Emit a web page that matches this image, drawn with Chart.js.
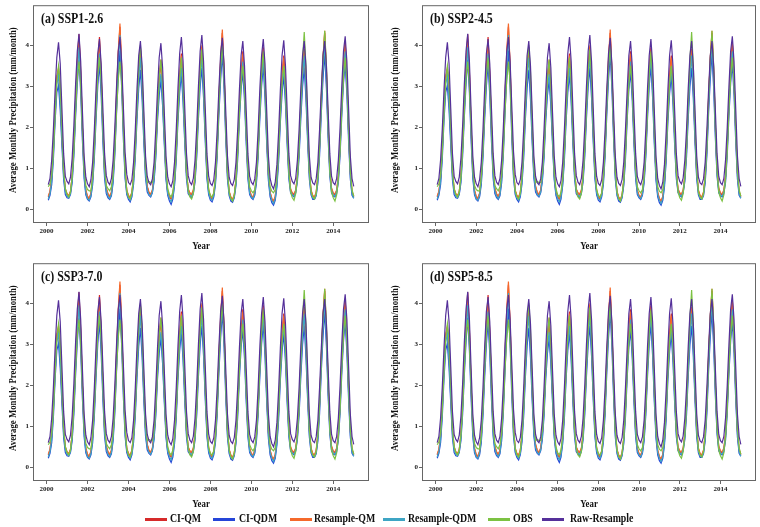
<!DOCTYPE html>
<html>
<head>
<meta charset="utf-8">
<script src="https://cdn.jsdelivr.net/npm/chart.js@4.4.1/dist/chart.umd.min.js"></script>
<style>
  body { margin: 0; background: #fff; width: 760px; height: 527px; position: relative; overflow: hidden; }
  canvas { position: absolute; }
  .leg-line { position: absolute; top: 518px; width: 22px; height: 3px; }
  .leg-text { position: absolute; top: 511px; font: bold 12px "Liberation Serif", serif; color: #111;
              white-space: nowrap; transform: scaleX(0.82); transform-origin: left center; }
</style>
</head>
<body>
<script>
// years on the x axis, one value per month (Jan..Dec), x = year + month/12
const years = [2000, 2001, 2002, 2003, 2004, 2005, 2006, 2007, 2008, 2009, 2010, 2011, 2012, 2013, 2014];
const xTicks = [2000, 2002, 2004, 2006, 2008, 2010, 2012, 2014];
const yTicks = [0, 1, 2, 3, 4];
const panelTitles = ['(a) SSP1-2.6', '(b) SSP2-4.5', '(c) SSP3-7.0', '(d) SSP5-8.5'];
const seriesNames = ['CI-QM', 'CI-QDM', 'Resample-QM', 'Resample-QDM', 'OBS', 'Raw-Resample'];

const ciQm = [
  0.30, 0.42, 0.75, 1.45, 2.45, 3.20, 3.40, 2.75, 1.80, 0.90, 0.48, 0.36,
  0.32, 0.42, 0.80, 1.55, 2.65, 3.60, 4.27, 3.35, 2.00, 0.95, 0.45, 0.30,
  0.25, 0.38, 0.75, 1.50, 2.60, 3.55, 4.20, 3.30, 2.00, 0.95, 0.50, 0.36,
  0.30, 0.40, 0.80, 1.60, 2.75, 3.75, 4.45, 3.45, 2.05, 0.95, 0.45, 0.32,
  0.28, 0.40, 0.80, 1.50, 2.55, 3.40, 3.95, 3.10, 1.90, 0.95, 0.55, 0.40,
  0.35, 0.45, 0.80, 1.45, 2.45, 3.15, 3.60, 2.85, 1.80, 0.85, 0.42, 0.30,
  0.25, 0.35, 0.70, 1.40, 2.45, 3.25, 3.80, 3.00, 1.85, 0.90, 0.48, 0.38,
  0.35, 0.45, 0.80, 1.50, 2.55, 3.40, 3.95, 3.10, 1.90, 0.90, 0.45, 0.30,
  0.25, 0.38, 0.75, 1.50, 2.65, 3.60, 4.30, 3.35, 2.00, 0.90, 0.42, 0.28,
  0.22, 0.34, 0.70, 1.45, 2.50, 3.30, 3.85, 3.05, 1.85, 0.90, 0.45, 0.32,
  0.28, 0.40, 0.78, 1.50, 2.55, 3.40, 3.95, 3.10, 1.85, 0.85, 0.40, 0.25,
  0.18, 0.30, 0.68, 1.40, 2.45, 3.25, 3.75, 2.95, 1.80, 0.90, 0.48, 0.38,
  0.35, 0.45, 0.80, 1.50, 2.55, 3.35, 3.90, 3.05, 1.85, 0.90, 0.45, 0.32,
  0.28, 0.40, 0.80, 1.55, 2.70, 3.65, 4.30, 3.35, 2.00, 0.95, 0.50, 0.38,
  0.35, 0.45, 0.80, 1.55, 2.60, 3.50, 4.08, 3.20, 1.90, 0.90, 0.42, 0.30
];
const ciQdm = [
  0.22, 0.34, 0.60, 1.22, 2.15, 2.85, 3.02, 2.42, 1.55, 0.72, 0.36, 0.28,
  0.27, 0.36, 0.65, 1.30, 2.25, 3.05, 3.65, 2.85, 1.68, 0.75, 0.35, 0.24,
  0.20, 0.30, 0.60, 1.25, 2.20, 3.00, 3.55, 2.78, 1.65, 0.75, 0.38, 0.28,
  0.24, 0.33, 0.65, 1.32, 2.35, 3.20, 3.87, 2.98, 1.72, 0.76, 0.36, 0.24,
  0.18, 0.30, 0.62, 1.25, 2.20, 2.95, 3.40, 2.68, 1.62, 0.76, 0.42, 0.34,
  0.30, 0.40, 0.68, 1.25, 2.15, 2.78, 3.15, 2.52, 1.58, 0.72, 0.34, 0.20,
  0.12, 0.25, 0.58, 1.20, 2.15, 2.85, 3.30, 2.60, 1.60, 0.74, 0.38, 0.32,
  0.28, 0.38, 0.66, 1.28, 2.22, 2.98, 3.45, 2.72, 1.64, 0.74, 0.35, 0.22,
  0.18, 0.30, 0.62, 1.30, 2.32, 3.15, 3.80, 2.95, 1.72, 0.74, 0.33, 0.20,
  0.17, 0.28, 0.58, 1.22, 2.18, 2.92, 3.35, 2.65, 1.60, 0.74, 0.36, 0.28,
  0.24, 0.34, 0.64, 1.28, 2.22, 3.00, 3.50, 2.72, 1.60, 0.70, 0.30, 0.16,
  0.10, 0.22, 0.55, 1.18, 2.12, 2.82, 3.25, 2.58, 1.56, 0.74, 0.40, 0.34,
  0.30, 0.40, 0.68, 1.28, 2.22, 2.98, 3.45, 2.70, 1.62, 0.74, 0.35, 0.24,
  0.24, 0.33, 0.64, 1.32, 2.35, 3.18, 3.80, 2.95, 1.74, 0.80, 0.40, 0.32,
  0.30, 0.38, 0.66, 1.32, 2.28, 3.08, 3.55, 2.80, 1.65, 0.74, 0.34, 0.27
];
const resampleQm = [
  0.32, 0.44, 0.78, 1.48, 2.50, 3.25, 3.45, 2.80, 1.82, 0.92, 0.50, 0.38,
  0.33, 0.44, 0.80, 1.55, 2.62, 3.55, 4.15, 3.30, 1.98, 0.95, 0.47, 0.32,
  0.27, 0.40, 0.76, 1.50, 2.58, 3.50, 4.10, 3.25, 1.98, 0.95, 0.52, 0.38,
  0.32, 0.42, 0.82, 1.62, 2.80, 3.85, 4.53, 3.50, 2.08, 0.97, 0.47, 0.34,
  0.30, 0.42, 0.80, 1.50, 2.55, 3.38, 3.90, 3.08, 1.90, 0.95, 0.56, 0.42,
  0.37, 0.47, 0.82, 1.48, 2.48, 3.20, 3.65, 2.88, 1.82, 0.87, 0.44, 0.32,
  0.27, 0.37, 0.72, 1.42, 2.45, 3.22, 3.75, 2.98, 1.85, 0.90, 0.50, 0.40,
  0.37, 0.47, 0.82, 1.52, 2.58, 3.45, 4.00, 3.12, 1.92, 0.92, 0.47, 0.32,
  0.27, 0.40, 0.78, 1.55, 2.70, 3.68, 4.38, 3.40, 2.02, 0.92, 0.44, 0.30,
  0.24, 0.36, 0.72, 1.45, 2.48, 3.28, 3.80, 3.02, 1.85, 0.90, 0.47, 0.34,
  0.30, 0.42, 0.78, 1.50, 2.52, 3.36, 3.90, 3.08, 1.85, 0.87, 0.42, 0.27,
  0.20, 0.32, 0.70, 1.42, 2.45, 3.22, 3.70, 2.92, 1.80, 0.92, 0.50, 0.40,
  0.37, 0.47, 0.82, 1.50, 2.55, 3.35, 3.90, 3.05, 1.85, 0.92, 0.47, 0.34,
  0.30, 0.42, 0.82, 1.58, 2.72, 3.70, 4.35, 3.38, 2.02, 0.97, 0.52, 0.40,
  0.37, 0.47, 0.82, 1.55, 2.60, 3.48, 4.05, 3.18, 1.90, 0.90, 0.44, 0.32
];
const resampleQdm = [
  0.25, 0.38, 0.68, 1.35, 2.30, 3.05, 3.25, 2.60, 1.70, 0.82, 0.42, 0.32,
  0.28, 0.38, 0.72, 1.42, 2.45, 3.30, 3.95, 3.10, 1.85, 0.85, 0.40, 0.26,
  0.22, 0.34, 0.68, 1.38, 2.40, 3.25, 3.80, 3.00, 1.82, 0.85, 0.45, 0.32,
  0.26, 0.36, 0.72, 1.48, 2.58, 3.55, 4.25, 3.25, 1.90, 0.85, 0.40, 0.28,
  0.22, 0.34, 0.70, 1.38, 2.38, 3.18, 3.70, 2.90, 1.75, 0.85, 0.48, 0.36,
  0.32, 0.42, 0.74, 1.36, 2.30, 2.95, 3.30, 2.65, 1.68, 0.78, 0.38, 0.26,
  0.18, 0.30, 0.64, 1.32, 2.30, 3.02, 3.45, 2.75, 1.70, 0.82, 0.44, 0.34,
  0.31, 0.41, 0.74, 1.40, 2.40, 3.18, 3.70, 2.90, 1.78, 0.82, 0.40, 0.26,
  0.22, 0.34, 0.70, 1.42, 2.50, 3.42, 4.10, 3.18, 1.88, 0.82, 0.38, 0.24,
  0.20, 0.31, 0.64, 1.35, 2.35, 3.12, 3.60, 2.85, 1.72, 0.82, 0.40, 0.30,
  0.26, 0.37, 0.72, 1.40, 2.40, 3.20, 3.70, 2.90, 1.72, 0.78, 0.36, 0.22,
  0.14, 0.26, 0.62, 1.30, 2.30, 3.02, 3.45, 2.75, 1.68, 0.82, 0.44, 0.35,
  0.32, 0.42, 0.74, 1.40, 2.40, 3.20, 3.75, 2.90, 1.75, 0.82, 0.40, 0.28,
  0.25, 0.36, 0.72, 1.45, 2.52, 3.40, 4.00, 3.15, 1.88, 0.88, 0.46, 0.34,
  0.32, 0.42, 0.74, 1.45, 2.45, 3.30, 3.85, 3.02, 1.80, 0.82, 0.38, 0.27
];
const obs = [
  0.55, 0.62, 0.85, 1.40, 2.30, 3.10, 3.50, 3.10, 2.00, 0.95, 0.50, 0.36,
  0.30, 0.42, 0.80, 1.45, 2.40, 3.20, 3.60, 3.05, 2.00, 1.00, 0.58, 0.48,
  0.45, 0.45, 0.80, 1.50, 2.45, 3.25, 3.70, 3.15, 2.05, 1.00, 0.58, 0.50,
  0.45, 0.55, 0.85, 1.45, 2.40, 3.15, 3.60, 3.10, 2.00, 0.95, 0.45, 0.30,
  0.25, 0.40, 0.80, 1.50, 2.55, 3.45, 4.00, 3.35, 2.10, 1.05, 0.65, 0.68,
  0.65, 0.65, 0.90, 1.45, 2.40, 3.20, 3.65, 3.10, 2.00, 0.95, 0.50, 0.36,
  0.30, 0.42, 0.78, 1.45, 2.40, 3.20, 3.70, 3.15, 2.00, 0.95, 0.45, 0.30,
  0.25, 0.38, 0.78, 1.48, 2.50, 3.35, 3.90, 3.25, 2.05, 0.95, 0.48, 0.34,
  0.30, 0.40, 0.80, 1.50, 2.55, 3.45, 4.00, 3.30, 2.05, 0.95, 0.42, 0.26,
  0.20, 0.34, 0.72, 1.40, 2.35, 3.05, 3.50, 3.00, 1.95, 1.00, 0.55, 0.45,
  0.40, 0.48, 0.82, 1.48, 2.45, 3.30, 3.85, 3.25, 2.05, 0.98, 0.55, 0.44,
  0.40, 0.48, 0.82, 1.45, 2.35, 3.05, 3.50, 3.00, 1.95, 0.92, 0.42, 0.28,
  0.22, 0.38, 0.80, 1.55, 2.65, 3.65, 4.32, 3.50, 2.10, 0.95, 0.42, 0.30,
  0.25, 0.38, 0.80, 1.55, 2.65, 3.65, 4.35, 3.50, 2.10, 0.95, 0.42, 0.28,
  0.20, 0.35, 0.75, 1.45, 2.45, 3.20, 3.70, 3.15, 2.00, 0.95, 0.48, 0.32
];
const rawResample = [
  0.60, 0.75, 1.20, 1.95, 2.90, 3.70, 4.07, 3.55, 2.45, 1.35, 0.80, 0.68,
  0.62, 0.78, 1.25, 2.05, 3.05, 3.85, 4.28, 3.60, 2.40, 1.30, 0.78, 0.62,
  0.55, 0.72, 1.15, 1.95, 2.95, 3.80, 4.15, 3.55, 2.45, 1.35, 0.82, 0.66,
  0.60, 0.75, 1.20, 2.00, 3.00, 3.85, 4.20, 3.60, 2.50, 1.40, 0.85, 0.65,
  0.60, 0.72, 1.15, 1.95, 2.95, 3.75, 4.10, 3.50, 2.40, 1.30, 0.80, 0.65,
  0.60, 0.74, 1.15, 1.95, 2.90, 3.70, 4.05, 3.45, 2.35, 1.30, 0.78, 0.62,
  0.55, 0.70, 1.15, 1.95, 2.95, 3.80, 4.20, 3.60, 2.45, 1.35, 0.82, 0.66,
  0.60, 0.75, 1.20, 2.00, 3.00, 3.85, 4.25, 3.60, 2.45, 1.35, 0.80, 0.63,
  0.58, 0.72, 1.15, 1.95, 2.95, 3.80, 4.18, 3.55, 2.40, 1.30, 0.78, 0.63,
  0.58, 0.72, 1.15, 1.95, 2.90, 3.75, 4.10, 3.50, 2.40, 1.35, 0.80, 0.66,
  0.60, 0.74, 1.15, 1.95, 2.95, 3.75, 4.15, 3.55, 2.40, 1.30, 0.75, 0.58,
  0.50, 0.66, 1.10, 1.90, 2.90, 3.75, 4.12, 3.50, 2.40, 1.35, 0.82, 0.68,
  0.62, 0.76, 1.20, 1.95, 2.95, 3.75, 4.10, 3.50, 2.40, 1.30, 0.78, 0.64,
  0.60, 0.74, 1.15, 1.95, 2.90, 3.75, 4.10, 3.50, 2.40, 1.35, 0.80, 0.65,
  0.60, 0.75, 1.20, 2.00, 3.00, 3.85, 4.22, 3.60, 2.45, 1.30, 0.75, 0.56
];

const allSeries = [ciQm, ciQdm, resampleQm, resampleQdm, obs, rawResample];
const colors = ['#d62a2a', '#2545d8', '#f5692b', '#3ea5c4', '#7cc243', '#55309a'];

// panel boxes: canvas position, y-axis width, right padding, y-title centre
const panels = [
  {left: 0,   top: 0,   yW: 33, padR: 11, titleX: 13},
  {left: 380, top: 0,   yW: 42, padR: 4,  titleX: 15},
  {left: 0,   top: 258, yW: 33, padR: 11, titleX: 13},
  {left: 380, top: 258, yW: 42, padR: 4,  titleX: 15}
];

const serif = '"Liberation Serif", "Times New Roman", serif';

// frame, panel label and both axis titles (drawn narrow like the original)
const framePlugin = {
  id: 'frame',
  afterDraw(chart, args, opts) {
    const {ctx, chartArea: a} = chart;
    ctx.save();
    ctx.strokeStyle = '#666';
    ctx.lineWidth = 1;
    ctx.strokeRect(a.left + 0.5, a.top + 0.5, a.right - a.left - 1, a.bottom - a.top - 1);
    ctx.fillStyle = '#111';
    ctx.textBaseline = 'middle';

    ctx.save();
    ctx.translate(a.left + 8, a.top + 14);
    ctx.scale(0.85, 1);
    ctx.font = 'bold 14px ' + serif;
    ctx.fillText(opts.text, 0, 0);
    ctx.restore();

    ctx.textAlign = 'center';
    ctx.save();
    ctx.translate((a.left + a.right) / 2, a.bottom + 23);
    ctx.scale(0.8, 1);
    ctx.font = 'bold 11px ' + serif;
    ctx.fillText('Year', 0, 0);
    ctx.restore();

    ctx.save();
    ctx.translate(opts.titleX, (a.top + a.bottom) / 2 - 4);
    ctx.rotate(-Math.PI / 2);
    ctx.scale(0.8, 1);
    ctx.font = 'bold 11px ' + serif;
    ctx.fillText('Average Monthly Precipitation (mm/month)', 0, 0);
    ctx.restore();

    ctx.restore();
  }
};

function toPoints(vals) {
  return vals.map((v, i) => ({x: years[Math.floor(i / 12)] + (i % 12 + 1) / 12, y: v}));
}

panels.forEach((p, k) => {
  const cv = document.createElement('canvas');
  cv.width = 380; cv.height = 258;
  cv.style.left = p.left + 'px';
  cv.style.top = p.top + 'px';
  document.body.appendChild(cv);

  new Chart(cv.getContext('2d'), {
    type: 'line',
    data: {
      datasets: allSeries.map((vals, i) => ({
        label: seriesNames[i],
        data: toPoints(vals),
        borderColor: colors[i],
        borderWidth: 1.2,
        pointRadius: 0,
        tension: 0,
        fill: false,
        order: 5 - i
      }))
    },
    options: {
      responsive: false,
      animation: false,
      devicePixelRatio: 1,
      layout: {padding: {top: 1, right: p.padR, left: 0, bottom: 0}},
      plugins: {legend: {display: false}, tooltip: {enabled: false},
                frame: {text: panelTitles[k], titleX: p.titleX}},
      scales: {
        x: {
          type: 'linear',
          min: 1999.337,
          max: 2015.746,
          afterBuildTicks: s => { s.ticks = xTicks.map(v => ({value: v})); },
          afterFit: s => { s.height = 35; },
          grid: {drawOnChartArea: false, drawTicks: true, tickLength: 3, color: '#666'},
          border: {display: false},
          ticks: {padding: 1, color: '#222', font: {family: serif, size: 7, weight: 'bold'}, maxRotation: 0,
                  callback: v => String(v)}
        },
        y: {
          min: -0.335,
          max: 4.976,
          afterBuildTicks: s => { s.ticks = yTicks.map(v => ({value: v})); },
          afterFit: s => { s.width = p.yW; },
          grid: {drawOnChartArea: false, drawTicks: true, tickLength: 3, color: '#666'},
          border: {display: false},
          ticks: {padding: 1, color: '#222', font: {family: serif, size: 7, weight: 'bold'},
                  callback: v => String(v)}
        }
      }
    },
    plugins: [framePlugin]
  });
});

// legend along the bottom
const legLine = [145, 213, 290, 383, 488, 542];
const legText = [170, 239, 314, 408, 513, 570];
seriesNames.forEach((name, i) => {
  const ln = document.createElement('div');
  ln.className = 'leg-line';
  ln.style.left = legLine[i] + 'px';
  ln.style.background = colors[i];
  document.body.appendChild(ln);
  const tx = document.createElement('div');
  tx.className = 'leg-text';
  tx.style.left = legText[i] + 'px';
  tx.textContent = name;
  document.body.appendChild(tx);
});
</script>
</body>
</html>
